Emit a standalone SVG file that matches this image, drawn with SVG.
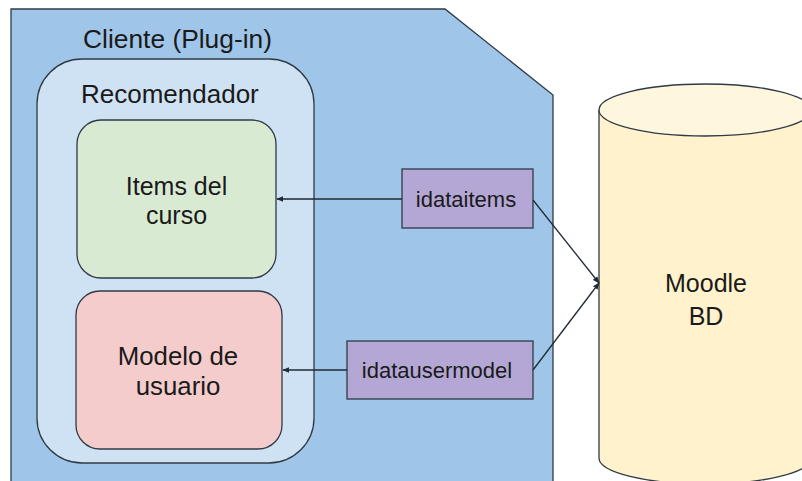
<svg xmlns="http://www.w3.org/2000/svg" width="802" height="481" viewBox="0 0 802 481">
<style>
  text { font-family: "Liberation Sans", Arial, sans-serif; fill: #1a1a1a; }
  .big { font-size: 25px; }
  .hdr { font-size: 26px; }
  .lbl { font-size: 22px; }
  .st { stroke: #2f3a45; stroke-width: 1.3; }
  .conn { stroke: #1f2a35; stroke-width: 1.3; fill: none; }
</style>
<defs>
  <marker id="ah" viewBox="0 0 10 10" refX="9" refY="5" markerWidth="7" markerHeight="7" markerUnits="userSpaceOnUse" orient="auto">
    <path d="M0,1 L10,5 L0,9 z" fill="#1f2a35"/>
  </marker>
</defs>
<rect width="802" height="481" fill="#ffffff"/>
<g id="cliente">
  <polygon class="st" points="11,9 445,9 553,95 553,495 11,495" fill="#9fc5e8"/>
  <text class="hdr" x="83" y="48" textLength="189" lengthAdjust="spacingAndGlyphs">Cliente (Plug-in)</text>
</g>
<g id="recomendador">
  <rect class="st" x="37" y="59" width="277" height="404" rx="45" ry="45" fill="#cfe2f3"/>
  <text class="hdr" x="81" y="103">Recomendador</text>
</g>
<g id="items">
  <rect class="st" x="77" y="120" width="199" height="158" rx="24" ry="24" fill="#d9ead3"/>
  <text class="big" x="176.5" y="195" text-anchor="middle">Items del</text>
  <text class="big" x="176.5" y="224" text-anchor="middle">curso</text>
</g>
<g id="modelo">
  <rect class="st" x="76" y="291" width="206" height="158" rx="24" ry="24" fill="#f4cccc"/>
  <text class="big" x="178" y="365" text-anchor="middle" style="font-size:25.8px">Modelo de</text>
  <text class="big" x="178" y="395" text-anchor="middle" style="font-size:25.8px">usuario</text>
</g>
<g id="idataitems">
  <rect class="st" x="402" y="169" width="131" height="59" fill="#b4a7d6"/>
  <text class="lbl" x="466" y="207" text-anchor="middle">idataitems</text>
</g>
<g id="idatausermodel">
  <rect class="st" x="347" y="341" width="186" height="58" fill="#b4a7d6"/>
  <text class="lbl" x="437" y="378" text-anchor="middle">idatausermodel</text>
</g>
<g id="moodle">
  <path class="st" d="M599,110 L599,458 A106,26 0 0 0 811,458 L811,110" fill="#fff2cc"/>
  <ellipse class="st" cx="705" cy="110" rx="106" ry="26" fill="#fff6de"/>
  <text class="big" x="706" y="292" text-anchor="middle">Moodle</text>
  <text class="big" x="706" y="325" text-anchor="middle">BD</text>
</g>
<g id="connectors">
  <line class="conn" x1="402" y1="199" x2="277" y2="199" marker-end="url(#ah)"/>
  <line class="conn" x1="347" y1="370" x2="283" y2="370" marker-end="url(#ah)"/>
  <line class="conn" x1="533" y1="200" x2="599" y2="283" marker-end="url(#ah)"/>
  <line class="conn" x1="533" y1="370" x2="599" y2="283" marker-end="url(#ah)"/>
</g>
</svg>
